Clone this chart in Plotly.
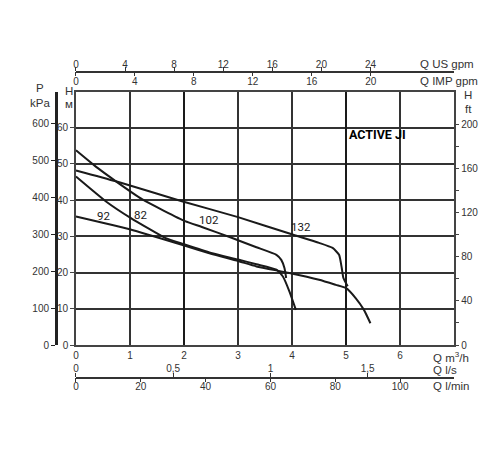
import plotly.graph_objects as go

# ---- data (Q in m3/h, H in m) ----
q_82 = [0, 0.55, 1.01, 1.65, 2.0, 2.5, 3.0, 3.34, 3.71, 3.83, 3.95, 4.07]
h_82 = [46.5, 39.7, 35.1, 29.6, 27.8, 25.4, 23.6, 22.3, 20.8, 18.9, 14.8, 9.7]

q_92 = [0, 1.01, 2.02, 2.5, 3.0, 3.34, 3.95, 4.5, 4.81, 5.0, 5.18, 5.33, 5.45]
h_92 = [35.5, 31.9, 27.4, 25.2, 23.2, 21.7, 19.9, 18.0, 16.6, 15.7, 12.9, 9.7, 6.0]

q_102 = [0, 0.4, 0.74, 1.23, 2.02, 2.33, 2.88, 3.34, 3.71, 3.8, 3.86, 3.89]
h_102 = [53.8, 48.9, 45.2, 40.2, 34.2, 32.6, 29.6, 27.0, 24.9, 23.5, 21.2, 18.5]

q_132 = [0, 0.74, 1.96, 3.0, 4.01, 4.5, 4.75, 4.87, 4.92, 4.95, 5.03]
h_132 = [48.2, 45.2, 39.7, 35.3, 30.5, 28.2, 26.8, 24.9, 21.2, 18.5, 16.2]

curve_names = ["82", "92", "102", "132"]
label_q = [1.19, 0.51, 2.46, 4.17]
label_h = [35.9, 35.7, 34.5, 32.6]

q_ticks = [0, 1, 2, 3, 4, 5, 6]
h_ticks = [0, 10, 20, 30, 40, 50, 60]
kpa_ticks = [0, 100, 200, 300, 400, 500, 600]
ft_ticks = [0, 40, 80, 120, 160, 200]
ft_minor = [20, 60, 100, 140, 180]
usgpm_ticks = [0, 4, 8, 12, 16, 20, 24]
impgpm_ticks = [0, 4, 8, 12, 16, 20]
ls_ticks = [0, 0.5, 1, 1.5]
ls_text = ["0", "0,5", "1", "1,5"]
lmin_ticks = [0, 20, 40, 60, 80, 100]

Q_MAX = 7.0
H_MAX = 70.0

# ---- geometry helpers (page pixel -> paper); page body has an 8px margin ----
OFF = 8
ML, MR, MT, MB = 12, 12, 32, 32
W, H = 484, 434
PW, PH = W - ML - MR, H - MT - MB


def px_x(p):
    return (p - OFF - ML) / PW


def px_y(p):
    return (H - MB - (p - OFF)) / PH


XD = [px_x(73.3), px_x(454)]
YD = [px_y(345), px_y(91.5)]

INK = "#1a1a1a"
GRID = "#333333"
TXT = "#333333"
FONT = "Liberation Sans, Arial, sans-serif"
NARROW = "Roboto, Liberation Sans, sans-serif"
tickfont = dict(family=FONT, size=10, color=TXT)

fig = go.Figure()
series = [(q_82, h_82), (q_92, h_92), (q_102, h_102), (q_132, h_132)]
for (qq, hh), name in zip(series, curve_names):
    fig.add_trace(go.Scatter(x=qq, y=hh, mode="lines", name=name,
                             line=dict(color=INK, width=2, shape="spline", smoothing=0.5),
                             showlegend=False, hoverinfo="skip"))

# empty helper traces so that every secondary scale is drawn
for xa, ya in [("x2", "y"), ("x3", "y"), ("x4", "y"), ("x5", "y"), ("x6", "y"),
               ("x", "y2"), ("x", "y3")]:
    fig.add_trace(go.Scatter(x=[None], y=[None], xaxis=xa, yaxis=ya, mode="lines",
                             showlegend=False, hoverinfo="skip"))

annotations = []
for name, qx, hy in zip(curve_names, label_q, label_h):
    annotations.append(dict(x=qx, y=hy, xref="x", yref="y", text=name, showarrow=False,
                            font=dict(family=NARROW, size=11.5, color=INK)))

annotations.append(dict(x=px_x(408), y=px_y(125), xref="paper", yref="paper",
                        text="<b>ACTIVE JI</b>", showarrow=False,
                        font=dict(family=NARROW, size=12.5, color="#000")))


def lab(text, x, y, anchor="left"):
    annotations.append(dict(x=px_x(x), y=px_y(y), xref="paper", yref="paper", text=text,
                            showarrow=False, xanchor=anchor, yanchor="middle",
                            font=dict(family=FONT, size=11.5, color=TXT)))


lab("Q US gpm", 418, 64)
lab("Q IMP gpm", 418, 81)
lab("Q m<sup>3</sup>/h", 431, 357)
lab("Q l/s", 431, 370)
lab("Q l/min", 431, 386)
lab("P", 37, 88, "center")
lab("kPa", 37, 103, "center")
lab("H", 66, 91, "center")
lab("м", 66, 104, "center")
lab("H", 468, 95, "center")
lab("ft", 468, 109, "center")

fig.update_layout(
    width=W, height=H,
    margin=dict(l=ML, r=MR, t=MT, b=MB),
    paper_bgcolor="white", plot_bgcolor="white",
    showlegend=False,
    annotations=annotations,
    xaxis=dict(domain=XD, range=[0, Q_MAX], tickvals=q_ticks, ticks="", showgrid=True,
               gridcolor=GRID, gridwidth=2, showline=True, mirror=True, linecolor="#444",
               linewidth=1.5, zeroline=False, tickfont=tickfont, anchor="y", fixedrange=True),
    yaxis=dict(domain=YD, range=[0, H_MAX], tickvals=h_ticks, ticks="outside", ticklen=4,
               tickcolor="#444", showgrid=True, gridcolor=GRID, gridwidth=2, showline=True,
               mirror=True, linecolor="#444", linewidth=1.5, zeroline=False, tickfont=tickfont,
               anchor="x", fixedrange=True),
    xaxis6=dict(domain=XD, range=[0, Q_MAX], overlaying="x", anchor="y", tickvals=[2, 5],
                showgrid=True, gridcolor="#1a1a1a", gridwidth=2.3, showticklabels=False,
                ticks="", showline=False, zeroline=False),
    yaxis2=dict(domain=YD, overlaying="y", anchor="free", position=px_x(53), side="left",
                range=[0, H_MAX * 9.80665], tickvals=kpa_ticks, ticks="outside", ticklen=4,
                tickcolor="#222", showline=True, linecolor="#222", linewidth=2.5,
                showgrid=False, zeroline=False, tickfont=tickfont),
    yaxis3=dict(domain=YD, overlaying="y", anchor="x", side="right",
                range=[0, H_MAX / 0.3048], tickvals=ft_ticks, ticks="outside", ticklen=4,
                tickcolor="#444",
                minor=dict(tickvals=ft_minor, ticks="outside", ticklen=4, tickcolor="#444"),
                showline=False, showgrid=False, zeroline=False, tickfont=tickfont),
    xaxis2=dict(domain=XD, overlaying="x", anchor="free", position=px_y(71.7), side="top",
                range=[0, Q_MAX / 0.2271247], tickvals=usgpm_ticks, ticks="outside", ticklen=4,
                tickcolor="#333", showline=True, linecolor="#333", linewidth=1.5,
                showgrid=False, zeroline=False, tickfont=tickfont, ticklabelstandoff=-5),
    xaxis3=dict(domain=XD, overlaying="x", anchor="free", position=px_y(71.7), side="bottom",
                range=[0, Q_MAX / 0.2727655], tickvals=impgpm_ticks, ticks="outside", ticklen=4,
                tickcolor="#333", showline=True, linecolor="#333", linewidth=1.5,
                showgrid=False, zeroline=False, tickfont=tickfont, ticklabelstandoff=-3),
    xaxis4=dict(domain=XD, overlaying="x", anchor="free", position=px_y(377.7), side="top",
                range=[0, Q_MAX / 3.6], tickvals=ls_ticks, ticktext=ls_text, ticks="outside",
                ticklen=4, tickcolor="#333", showline=True, linecolor="#333", linewidth=1.5,
                showgrid=False, zeroline=False, tickfont=tickfont, ticklabelstandoff=-3),
    xaxis5=dict(domain=XD, overlaying="x", anchor="free", position=px_y(377.7), side="bottom",
                range=[0, Q_MAX / 0.06], tickvals=lmin_ticks, ticks="outside", ticklen=4,
                tickcolor="#333", showline=True, linecolor="#333", linewidth=1.5,
                showgrid=False, zeroline=False, tickfont=tickfont, ticklabelstandoff=-4),
)

fig.write_html("out.html")
